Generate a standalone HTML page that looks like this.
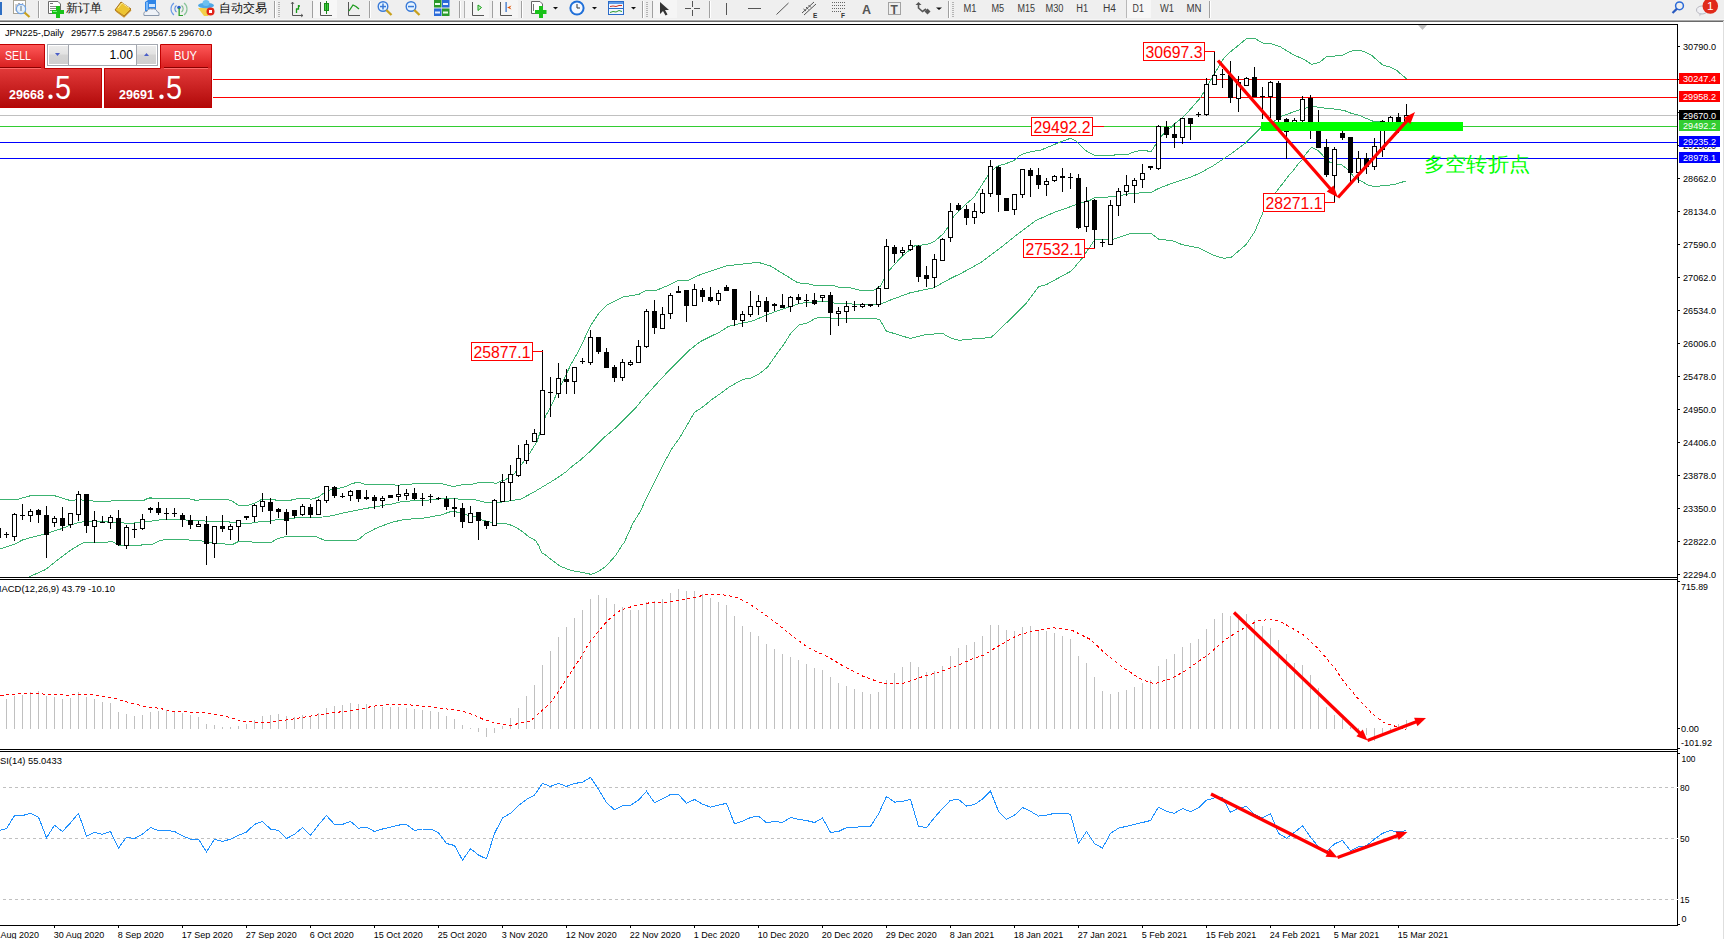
<!DOCTYPE html><html><head><meta charset="utf-8"><style>
html,body{margin:0;padding:0;background:#fff;width:1724px;height:939px;overflow:hidden}
svg{display:block}
text{font-family:"Liberation Sans", sans-serif}
</style></head><body>
<svg width="1724" height="939" viewBox="0 0 1724 939">
<defs>
<clipPath id="cm"><rect x="0" y="25" width="1677" height="552"/></clipPath>
<clipPath id="cd"><rect x="0" y="580" width="1677" height="169"/></clipPath>
<clipPath id="cr"><rect x="0" y="752" width="1677" height="173"/></clipPath>
<linearGradient id="gRedTab" x1="0" y1="0" x2="0" y2="1"><stop offset="0" stop-color="#ff5a5a"/><stop offset="1" stop-color="#d81e1e"/></linearGradient>
<linearGradient id="gRedPanel" x1="0" y1="0" x2="0" y2="1"><stop offset="0" stop-color="#e23a3a"/><stop offset="1" stop-color="#b00808"/></linearGradient>
<linearGradient id="gBtn" x1="0" y1="0" x2="0" y2="1"><stop offset="0" stop-color="#ececec"/><stop offset="0.45" stop-color="#e2e2e2"/><stop offset="0.5" stop-color="#d4d4d4"/><stop offset="1" stop-color="#cfcfcf"/></linearGradient>
</defs>
<rect x="0" y="0" width="1724" height="19" fill="#efefef"/>
<rect x="0" y="19" width="1724" height="1" fill="#f6f6f6"/>
<rect x="0" y="20" width="1724" height="1" fill="#a9a9a9"/>
<rect x="0" y="21" width="1724" height="1" fill="#6a6a6a"/>
<rect x="1723" y="21" width="1" height="918" fill="#dedede"/>
<rect x="0" y="2" width="2" height="13" fill="#2f6fc4"/><rect x="13.5" y="0.5" width="12" height="13" fill="#fff" stroke="#a8a496"/><path d="M16,4 V11 H24 M17,6 L19,3 L21,6 L23,3" fill="none" stroke="#888" stroke-width="0.8"/><circle cx="21" cy="9" r="4.6" fill="#e4f2fc" fill-opacity="0.85" stroke="#6ea2e6" stroke-width="1.2"/><rect x="20" y="6" width="2" height="5" fill="#a8b4c0"/><line x1="24.5" y1="12.5" x2="29.5" y2="17" stroke="#c8a01c" stroke-width="2.2"/><rect x="38" y="1" width="1" height="17" fill="#a0a0a0"/><rect x="39" y="1" width="1" height="17" fill="#ffffff"/><path d="M48.5,1.5 H58 L60.5,4 V13.5 H48.5 Z" fill="#fff" stroke="#6a6a6a"/><rect x="50" y="3" width="3" height="1" fill="#777"/><rect x="50" y="6" width="7" height="1" fill="#888"/><rect x="50" y="8" width="6" height="1" fill="#888"/><rect x="50" y="10" width="4" height="1" fill="#888"/><rect x="52" y="10" width="12" height="4" fill="#19c219"/><rect x="56" y="6" width="4" height="12" fill="#19c219"/><rect x="53" y="11" width="4" height="1" fill="#7ef07e"/><text x="66" y="12" font-size="12" fill="#111">新订单</text><path d="M115,10 L121,2 L131,9 L124,16 Z" fill="#edc431" stroke="#a6701a" stroke-width="1"/><path d="M116,11 L124,17 L131,10" fill="none" stroke="#c8902a" stroke-width="1.2"/><path d="M118,8 L122,3 L129,8" fill="none" stroke="#fbe890" stroke-width="1"/><path d="M145,2 L148,0 L156,0 L156,11 L145,11 Z" fill="#2f86e8"/><rect x="149" y="4" width="6" height="3" fill="#cfe6ff"/><rect x="146" y="2" width="2" height="8" fill="#7ab8f8"/><path d="M144,15.5 Q143,11 147,11.5 Q148,8 152,9 Q156,8 157,11.5 Q160,12 159,15.5 Z" fill="#eef2f8" stroke="#8a98ac" stroke-width="1"/><path d="M174,3 A7.5,7.5 0 0 0 174,15" fill="none" stroke="#6a9ae8" stroke-width="1.1"/><path d="M176.5,5.5 A4,4 0 0 0 176.5,12" fill="none" stroke="#5a8ae0" stroke-width="1.1"/><path d="M184,3 A7.5,7.5 0 0 1 184,15" fill="none" stroke="#8ac49a" stroke-width="1.2"/><path d="M181.5,5.5 A4,4 0 0 1 181.5,12" fill="none" stroke="#7ab88a" stroke-width="1.1"/><circle cx="179" cy="7.5" r="1.8" fill="#2a5fc8"/><rect x="178.5" y="8" width="1.3" height="8" fill="#2aa02a"/><rect x="179" y="15" width="4" height="1" fill="#2aa02a"/><path d="M198,8 L214,8 L208,16 L204,16 Z" fill="#f2d04a"/><ellipse cx="206" cy="5.5" rx="8" ry="2.8" fill="#4ea8e6"/><ellipse cx="206" cy="3" rx="3.5" ry="3" fill="#6cc0f0"/><circle cx="210.5" cy="11.5" r="4" fill="#e0241a"/><rect x="209" y="10" width="3" height="3" fill="#fff"/><text x="219" y="12" font-size="12" fill="#111">自动交易</text><rect x="274" y="1" width="1" height="17" fill="#a0a0a0"/><rect x="275" y="1" width="1" height="17" fill="#ffffff"/><rect x="278" y="2" width="2" height="1" fill="#b4b4b4"/><rect x="278" y="4" width="2" height="1" fill="#b4b4b4"/><rect x="278" y="6" width="2" height="1" fill="#b4b4b4"/><rect x="278" y="8" width="2" height="1" fill="#b4b4b4"/><rect x="278" y="10" width="2" height="1" fill="#b4b4b4"/><rect x="278" y="12" width="2" height="1" fill="#b4b4b4"/><rect x="278" y="14" width="2" height="1" fill="#b4b4b4"/><rect x="278" y="16" width="2" height="1" fill="#b4b4b4"/><path d="M292.5,2 V15.5 H303" fill="none" stroke="#555"/><path d="M291,4 L292.5,2 L294,4 M301,14 L303,15.5 L301,17" fill="none" stroke="#555" stroke-width="0.8"/><path d="M296.5,13 V8.5 M296,9 H298.5 V5 M298.5,6 H300" fill="none" stroke="#1a9a1a" stroke-width="1.3"/><rect x="312" y="1" width="1" height="17" fill="#a0a0a0"/><rect x="313" y="1" width="1" height="17" fill="#ffffff"/><rect x="313" y="0" width="24" height="18" fill="#f7f7f7"/><path d="M320.5,2 V15.5 H332" fill="none" stroke="#555"/><rect x="324.5" y="3.5" width="4" height="7" fill="#3fd43f" stroke="#1a8a1a"/><rect x="326" y="1" width="1" height="13" fill="#1a8a1a"/><path d="M348.5,2 V15.5 H360" fill="none" stroke="#555"/><path d="M349,11 L353,5 L356,6.5 L359,9" fill="none" stroke="#1a9a1a" stroke-width="1.3"/><rect x="369" y="1" width="1" height="17" fill="#a0a0a0"/><rect x="370" y="1" width="1" height="17" fill="#ffffff"/><circle cx="383" cy="6.5" r="4.8" fill="#e6f4ff" stroke="#3a7ad8" stroke-width="1.4"/><rect x="380" y="5.8" width="6" height="1.5" fill="#3a7ad8"/><rect x="382.25" y="3.5" width="1.5" height="6" fill="#3a7ad8"/><line x1="386.3" y1="10" x2="391.5" y2="15" stroke="#c8a01c" stroke-width="2.4"/><circle cx="411" cy="6.5" r="4.8" fill="#e6f4ff" stroke="#3a7ad8" stroke-width="1.4"/><rect x="408" y="5.8" width="6" height="1.5" fill="#3a7ad8"/><line x1="414.3" y1="10" x2="419.5" y2="15" stroke="#c8a01c" stroke-width="2.4"/><rect x="434" y="0" width="7.5" height="7.5" fill="#2a9a2a"/><rect x="442" y="0" width="7.5" height="7.5" fill="#2a6ad8"/><rect x="434" y="8.5" width="7.5" height="7.5" fill="#2a6ad8"/><rect x="442" y="8.5" width="7.5" height="7.5" fill="#2a9a2a"/><rect x="435" y="3" width="5" height="2" fill="#e8ffe8"/><rect x="443" y="3" width="5" height="2" fill="#e8f0ff"/><rect x="435" y="11.5" width="5" height="2" fill="#e8f0ff"/><rect x="443" y="11.5" width="5" height="2" fill="#e8ffe8"/><rect x="459" y="1" width="1" height="17" fill="#a0a0a0"/><rect x="460" y="1" width="1" height="17" fill="#ffffff"/><rect x="464" y="0" width="25" height="18" fill="#f5f5f5"/><rect x="464" y="1" width="1" height="17" fill="#b0b0b0"/><path d="M472.5,2 V15.5 H484" fill="none" stroke="#555"/><path d="M478,5 L481.5,7.5 L478,10.5 Z" fill="#bff0bf" stroke="#1aa01a" stroke-width="1"/><rect x="492" y="1" width="1" height="17" fill="#a0a0a0"/><rect x="493" y="1" width="1" height="17" fill="#ffffff"/><rect x="493" y="0" width="25" height="18" fill="#f5f5f5"/><path d="M500.5,2 V15.5 H512" fill="none" stroke="#555"/><rect x="505.5" y="2" width="1.2" height="10" fill="#2a6ac8"/><path d="M507,7.5 L511.5,5.5 L510,7.5 L511.5,9.5 Z" fill="#e05a10"/><rect x="521" y="1" width="1" height="17" fill="#a0a0a0"/><rect x="522" y="1" width="1" height="17" fill="#ffffff"/><path d="M531.5,1.5 H540 L542.5,4 V13.5 H531.5 Z" fill="#fff" stroke="#666"/><rect x="533" y="4" width="1" height="7" fill="#777"/><rect x="535" y="10" width="11.5" height="4" fill="#19c219"/><rect x="539" y="6" width="4" height="12" fill="#19c219"/><path d="M553,7 L558,7 L555.5,9.5 Z" fill="#111"/><circle cx="577" cy="8" r="7.6" fill="#1f6fd8"/><circle cx="577" cy="8" r="5.6" fill="#f4f8ff"/><path d="M577,4 V8 H580" fill="none" stroke="#333" stroke-width="1"/><path d="M592,7 L597,7 L594.5,9.5 Z" fill="#111"/><rect x="608.5" y="1.5" width="15" height="13" fill="#f0f6ff" stroke="#2a6ac8"/><rect x="609" y="2" width="14" height="2" fill="#5a9ae8"/><rect x="609" y="8" width="14" height="1" fill="#2a6ac8"/><path d="M610,6.5 L613,6 L616,6.5 L619,5.5 L622,5.5" fill="none" stroke="#c83020" stroke-width="1"/><path d="M610,12.5 L613,11.5 L616,12 L619,10.5 L622,11.5" fill="none" stroke="#2a9a2a" stroke-width="1"/><path d="M631,7 L636,7 L633.5,9.5 Z" fill="#111"/><rect x="642" y="1" width="1" height="17" fill="#a0a0a0"/><rect x="643" y="1" width="1" height="17" fill="#ffffff"/><rect x="646" y="2" width="2" height="1" fill="#b4b4b4"/><rect x="646" y="4" width="2" height="1" fill="#b4b4b4"/><rect x="646" y="6" width="2" height="1" fill="#b4b4b4"/><rect x="646" y="8" width="2" height="1" fill="#b4b4b4"/><rect x="646" y="10" width="2" height="1" fill="#b4b4b4"/><rect x="646" y="12" width="2" height="1" fill="#b4b4b4"/><rect x="646" y="14" width="2" height="1" fill="#b4b4b4"/><rect x="646" y="16" width="2" height="1" fill="#b4b4b4"/><rect x="652" y="1" width="1" height="17" fill="#a0a0a0"/><rect x="653" y="0" width="24" height="18" fill="#f5f5f5"/><path d="M660,2 L660,14 L663,11 L665.5,15.5 L667.5,14.5 L665,10 L669,10 Z" fill="#333"/><rect x="692" y="1" width="1" height="15" fill="#555"/><rect x="685" y="8" width="15" height="1" fill="#555"/><rect x="692" y="7" width="1" height="3" fill="#efefef"/><rect x="691" y="8" width="3" height="1" fill="#efefef"/><rect x="709" y="1" width="1" height="17" fill="#a0a0a0"/><rect x="710" y="1" width="1" height="17" fill="#ffffff"/><rect x="726" y="3" width="1" height="12" fill="#555"/><rect x="748" y="8" width="13" height="1" fill="#555"/><line x1="776.5" y1="14.5" x2="788.5" y2="3" stroke="#555" stroke-width="1"/><path d="M802,13 L814,2 M804,15 L816,4 M803.5,9 L806,11 M806,7 L808.5,9.5 M808.5,5 L811,7.5" fill="none" stroke="#555" stroke-width="1"/><text x="813" y="17.5" font-size="6.5" font-weight="bold" fill="#333">E</text><path d="M832,2.5 H845 M832,5.5 H845 M832,8.5 H845 M832,11.5 H841" fill="none" stroke="#666" stroke-dasharray="1,1"/><text x="841" y="17.5" font-size="6.5" font-weight="bold" fill="#333">F</text><text x="862" y="13.5" font-size="12.5" font-weight="bold" fill="#555">A</text><rect x="888.5" y="2.5" width="12" height="12" fill="none" stroke="#555" stroke-dasharray="1,1"/><text x="890.5" y="13.5" font-size="12" font-weight="bold" fill="#555">T</text><path d="M915.5,5 L918.5,2 L921.5,5 Z" fill="#555"/><path d="M918.5,5 V8 L922.5,11.5 L926,9" fill="none" stroke="#555" stroke-width="1.6"/><path d="M924.5,11.5 L927.5,8.5 L930.5,11.5 L927.5,14.5 Z" fill="#555"/><path d="M936,7.5 L942,7.5 L939,10 Z" fill="#111"/><rect x="948" y="1" width="1" height="17" fill="#a0a0a0"/><rect x="949" y="1" width="1" height="17" fill="#ffffff"/><rect x="952" y="2" width="2" height="1" fill="#b4b4b4"/><rect x="952" y="4" width="2" height="1" fill="#b4b4b4"/><rect x="952" y="6" width="2" height="1" fill="#b4b4b4"/><rect x="952" y="8" width="2" height="1" fill="#b4b4b4"/><rect x="952" y="10" width="2" height="1" fill="#b4b4b4"/><rect x="952" y="12" width="2" height="1" fill="#b4b4b4"/><rect x="952" y="14" width="2" height="1" fill="#b4b4b4"/><rect x="952" y="16" width="2" height="1" fill="#b4b4b4"/><rect x="1126" y="0" width="25" height="18" fill="#f7f7f7"/><rect x="1126" y="0" width="1" height="18" fill="#b8b8b8"/><text x="963.5" y="12.3" font-size="10" fill="#3a3a3a" textLength="13" lengthAdjust="spacingAndGlyphs">M1</text><text x="991.5" y="12.3" font-size="10" fill="#3a3a3a" textLength="12.7" lengthAdjust="spacingAndGlyphs">M5</text><text x="1017.5" y="12.3" font-size="10" fill="#3a3a3a" textLength="17.5" lengthAdjust="spacingAndGlyphs">M15</text><text x="1045.5" y="12.3" font-size="10" fill="#3a3a3a" textLength="18" lengthAdjust="spacingAndGlyphs">M30</text><text x="1076.3" y="12.3" font-size="10" fill="#3a3a3a" textLength="11.8" lengthAdjust="spacingAndGlyphs">H1</text><text x="1103" y="12.3" font-size="10" fill="#3a3a3a" textLength="13" lengthAdjust="spacingAndGlyphs">H4</text><text x="1132.5" y="12.3" font-size="10" fill="#3a3a3a" textLength="11.3" lengthAdjust="spacingAndGlyphs">D1</text><text x="1160" y="12.3" font-size="10" fill="#3a3a3a" textLength="14" lengthAdjust="spacingAndGlyphs">W1</text><text x="1186.5" y="12.3" font-size="10" fill="#3a3a3a" textLength="15" lengthAdjust="spacingAndGlyphs">MN</text><rect x="1209" y="1" width="1" height="17" fill="#a0a0a0"/><rect x="1210" y="1" width="1" height="17" fill="#ffffff"/><circle cx="1679.5" cy="5.8" r="3.9" fill="none" stroke="#2a6ad8" stroke-width="1.5"/><line x1="1677" y1="8.6" x2="1672.5" y2="13" stroke="#2a5ac0" stroke-width="2.2"/><ellipse cx="1702" cy="10" rx="5.5" ry="4" fill="#f0f0f4" stroke="#b8b8c0"/><path d="M1699,13 L1699.5,16.5 L1702,13.5 Z" fill="#c8c8d0"/><circle cx="1710.3" cy="6" r="7.8" fill="#e02a1a"/><text x="1707" y="10.3" font-size="10" fill="#fff" textLength="6.5" lengthAdjust="spacingAndGlyphs">1</text>
<rect x="0" y="22" width="1723" height="917" fill="#ffffff"/>
<rect x="0" y="24" width="1678" height="1" fill="#000"/>
<rect x="1677" y="24" width="1" height="902" fill="#000"/>
<rect x="0" y="577" width="1678" height="1" fill="#000"/>
<rect x="0" y="579" width="1678" height="1" fill="#000"/>
<rect x="0" y="749" width="1678" height="1" fill="#000"/>
<rect x="0" y="751" width="1678" height="1" fill="#000"/>
<rect x="0" y="925" width="1678" height="1" fill="#000"/>
<g clip-path="url(#cm)"><rect x="0" y="79" width="1677" height="1" fill="#ff0000"/><rect x="0" y="97" width="1677" height="1" fill="#ff0000"/><rect x="0" y="115" width="1677" height="1" fill="#c0c0c0"/><rect x="0" y="126" width="1677" height="1" fill="#32cd32"/><rect x="0" y="142" width="1677" height="1" fill="#0000ff"/><rect x="0" y="158" width="1677" height="1" fill="#0000ff"/><path d="M1418,25 L1427,25 L1422.5,30 Z" fill="#c0c0c0"/><polyline points="0.5,499.7 19.4,499.0 23.5,497.6 29.5,496.0 41.1,495.4 55.5,496.0 70.1,500.5 78.8,499.7 102.0,501.9 116.5,500.5 144.4,500.1 148.7,498.0 187.1,498.2 195.7,500.3 202.4,499.7 227.3,499.7 231.2,500.6 238.8,505.4 247.5,505.4 254.2,503.5 260.5,500.0 274.9,499.2 275.8,500.5 289.3,500.5 298.9,498.3 307.5,498.6 311.3,499.2 318.0,497.3 323.8,493.0 329.5,490.1 337.2,488.7 344.9,486.8 352.5,483.4 358.3,482.3 366.0,484.6 387.1,484.4 399.1,485.3 403.0,484.4 426.0,483.4 440.4,483.4 448.0,485.3 453.8,486.5 461.5,484.9 472.0,484.2 478.7,482.5 491.2,482.5 496.0,483.4 500.8,481.0 505.0,480.0 514.2,473.8 522.0,464.1 529.5,453.5 536.9,441.8 545.5,416.2 550.8,406.6 557.2,392.8 563.6,380.0 570.5,365.2 579.0,350.3 587.5,332.2 591.8,323.7 598.2,314.1 607.8,304.5 622.7,297.0 638.7,294.4 646.1,290.4 655.7,290.4 661.0,288.5 670.5,284.3 678.0,280.4 688.2,280.4 700.1,274.7 713.8,270.0 726.5,265.8 758.2,262.3 770.5,266.0 797.8,282.8 808.8,283.9 814.8,285.4 833.5,285.6 838.6,287.3 848.9,287.4 859.9,290.2 873.6,290.2 880.4,286.4 884.6,277.9 889.9,269.6 901.6,256.7 914.5,246.0 927.3,244.4 934.4,241.5 943.7,233.3 948.4,226.3 954.3,215.8 964.8,205.2 974.2,197.0 982.5,184.0 988.4,174.6 996.6,166.4 1004.8,164.0 1014.1,160.5 1020.0,155.3 1025.9,152.9 1034.0,151.2 1041.4,149.9 1058.2,142.9 1070.4,138.3 1076.2,141.2 1084.9,149.9 1090.5,153.5 1095.0,155.5 1114.2,155.5 1114.8,154.2 1128.2,154.2 1132.7,152.5 1136.5,151.4 1141.0,150.3 1146.8,150.3 1148.0,151.6 1151.2,151.6 1156.4,143.2 1161.5,135.9 1169.8,128.5 1175.5,123.1 1183.2,116.9 1189.7,110.0 1200.8,97.3 1210.1,81.1 1217.8,68.3 1223.8,58.1 1230.5,51.7 1237.8,45.9 1246.9,38.3 1254.4,38.3 1263.5,43.3 1271.0,43.6 1280.0,46.6 1293.6,54.9 1304.2,59.4 1311.7,64.4 1319.3,62.5 1326.8,56.4 1341.9,55.7 1350.9,51.1 1358.5,50.4 1364.5,51.6 1372.0,55.7 1382.6,65.0 1390.1,67.0 1396.2,70.0 1406.7,79.0" fill="none" shape-rendering="crispEdges" stroke="#3cb371" stroke-width="1"/><polyline points="0.5,549.0 14.5,544.2 22.5,540.0 30.5,537.5 38.5,535.6 46.5,533.5 54.5,530.8 62.5,528.4 70.5,525.0 78.5,522.7 86.5,521.2 94.5,521.2 110.5,522.2 130.5,523.4 145.8,521.7 154.5,520.7 163.1,519.3 181.3,519.3 188.0,520.3 203.4,520.7 207.2,521.4 226.4,521.2 232.1,522.7 250.3,523.6 255.1,522.2 270.1,521.3 276.8,519.4 284.5,519.9 289.3,518.9 298.9,517.5 308.4,517.5 322.8,517.0 330.5,516.0 346.8,512.2 356.4,510.3 366.0,508.4 375.5,506.9 385.1,505.0 390.5,504.3 403.9,501.2 421.2,500.7 432.7,499.7 440.4,498.8 451.9,498.3 459.5,499.2 474.9,499.7 486.4,502.6 496.0,502.6 505.5,501.6 520.5,499.2 533.2,492.5 554.0,480.0 565.7,472.1 571.0,467.3 580.5,459.9 592.2,449.5 604.1,437.5 614.3,429.0 620.5,423.1 634.4,409.3 642.1,400.0 660.0,380.0 670.5,368.9 689.5,350.0 700.5,341.5 719.7,332.0 728.2,326.6 735.6,324.5 751.6,321.3 764.4,316.0 775.0,311.7 785.7,308.0 800.5,303.2 818.2,301.7 828.4,301.7 836.1,303.6 850.6,303.9 864.2,304.7 881.2,303.9 890.5,300.0 910.4,292.7 933.9,287.8 948.4,279.6 962.9,272.4 981.0,262.4 999.1,248.9 1017.2,234.4 1035.3,220.8 1053.4,212.7 1071.5,206.3 1090.5,200.0 1094.8,197.4 1114.7,196.8 1131.1,193.3 1150.5,192.6 1159.4,188.1 1172.9,182.9 1189.3,177.7 1199.7,173.2 1213.1,165.8 1231.0,153.9 1245.9,142.7 1261.5,127.1 1273.3,121.8 1282.3,116.0 1301.5,109.0 1312.6,106.3 1328.6,108.7 1335.5,109.1 1344.6,110.6 1350.7,113.1 1358.8,115.2 1365.8,118.2 1372.9,121.2 1381.5,122.0 1406.5,124.0" fill="none" shape-rendering="crispEdges" stroke="#3cb371" stroke-width="1"/><polyline points="26.5,578.0 45.5,569.6 58.0,559.6 72.4,549.0 82.0,543.3 85.8,542.3 106.0,542.3 111.7,541.4 119.0,545.2 138.2,545.2 152.1,544.4 159.3,540.9 165.0,539.6 187.1,539.9 201.5,540.9 207.2,542.3 227.3,544.2 232.1,544.7 238.8,541.4 260.5,542.4 271.0,542.4 277.8,538.6 283.5,537.1 291.2,536.2 315.1,536.2 325.7,540.8 354.5,540.8 359.3,539.0 365.0,534.2 375.5,528.5 390.5,522.7 403.0,519.7 425.0,517.9 440.4,515.1 451.9,511.2 457.6,512.2 467.2,515.1 474.9,516.5 481.6,519.9 491.2,522.3 500.5,523.5 505.3,523.5 508.8,524.4 512.3,525.6 517.4,528.2 520.9,530.5 524.8,533.5 528.3,536.5 533.7,539.3 536.3,541.5 538.8,545.9 542.0,553.0 545.2,554.6 551.0,559.4 560.5,566.4 563.3,567.4 565.6,568.4 567.9,569.5 571.2,570.4 576.3,571.5 582.3,572.4 587.4,573.4 590.9,574.4 593.4,573.4 596.2,572.5 598.5,571.5 601.3,569.5 605.5,566.5 610.8,560.9 615.7,555.3 618.0,551.8 619.9,548.8 622.0,545.3 624.1,542.8 632.8,523.5 640.5,511.1 647.5,495.7 654.5,481.8 661.4,467.9 671.4,449.4 679.1,438.6 686.9,425.5 694.5,412.3 700.7,408.5 708.5,402.3 711.1,400.0 718.6,394.8 730.3,386.3 743.1,379.3 750.6,378.3 759.1,374.0 767.6,367.1 775.0,356.4 783.6,344.7 791.0,333.0 799.5,324.5 806.3,323.5 815.6,318.3 819.9,317.2 826.7,317.2 831.8,318.6 849.7,318.8 866.8,318.3 879.5,319.2 886.3,331.1 910.4,338.5 926.7,334.3 943.0,333.6 950.2,337.9 959.3,340.3 971.9,339.0 991.0,337.6 1008.1,321.3 1026.2,303.2 1038.9,286.5 1046.2,284.7 1071.5,270.9 1082.4,257.9 1094.8,239.6 1112.3,239.6 1131.1,233.4 1151.0,233.4 1159.4,239.6 1171.4,240.3 1181.8,244.5 1198.2,247.8 1213.1,255.2 1223.6,258.2 1231.0,257.5 1245.9,244.8 1254.9,231.4 1263.8,210.5 1275.7,192.6 1290.5,173.3 1292.9,170.9 1296.2,166.6 1299.1,162.8 1302.5,159.4 1304.9,155.1 1309.2,149.9 1311.6,147.2 1314.5,148.9 1317.8,150.3 1321.2,153.7 1324.5,157.5 1329.8,162.3 1332.2,162.6 1337.9,164.5 1341.3,164.7 1345.5,167.6 1348.8,170.5 1353.7,176.8 1360.8,180.9 1367.9,184.9 1374.9,187.0 1381.0,185.9 1388.1,185.4 1396.2,183.9 1406.3,180.9" fill="none" shape-rendering="crispEdges" stroke="#3cb371" stroke-width="1"/><g fill="#000" shape-rendering="crispEdges"><rect x="-2" y="527" width="1" height="14"/><rect x="-4" y="528" width="5" height="10"/><rect x="6" y="532" width="1" height="6"/><rect x="4" y="534" width="5" height="1"/><rect x="14" y="513" width="1" height="28"/><rect x="12.5" y="514.5" width="4" height="22" fill="#fff" stroke="#000" stroke-width="1"/><rect x="22" y="504" width="1" height="16"/><rect x="20" y="515" width="5" height="1"/><rect x="30" y="509" width="1" height="13"/><rect x="28.5" y="511.5" width="4" height="4" fill="#fff" stroke="#000" stroke-width="1"/><rect x="38" y="509" width="1" height="14"/><rect x="36" y="510" width="5" height="5"/><rect x="46" y="506" width="1" height="52"/><rect x="44" y="515" width="5" height="20"/><rect x="54" y="516" width="1" height="11"/><rect x="52.5" y="518.5" width="4" height="4" fill="#fff" stroke="#000" stroke-width="1"/><rect x="62" y="507" width="1" height="24"/><rect x="60" y="518" width="5" height="8"/><rect x="70" y="513" width="1" height="15"/><rect x="68.5" y="513.5" width="4" height="11" fill="#fff" stroke="#000" stroke-width="1"/><rect x="78" y="491" width="1" height="30"/><rect x="76.5" y="494.5" width="4" height="20" fill="#fff" stroke="#000" stroke-width="1"/><rect x="86" y="494" width="1" height="39"/><rect x="84" y="494" width="5" height="32"/><rect x="94" y="511" width="1" height="32"/><rect x="92.5" y="520.5" width="4" height="6" fill="#fff" stroke="#000" stroke-width="1"/><rect x="102" y="516" width="1" height="7"/><rect x="100" y="522" width="5" height="1"/><rect x="110" y="515" width="1" height="14"/><rect x="108.5" y="517.5" width="4" height="5" fill="#fff" stroke="#000" stroke-width="1"/><rect x="118" y="510" width="1" height="36"/><rect x="116" y="518" width="5" height="27"/><rect x="126" y="525" width="1" height="24"/><rect x="124.5" y="527.5" width="4" height="18" fill="#fff" stroke="#000" stroke-width="1"/><rect x="134" y="523" width="1" height="15"/><rect x="132" y="529" width="5" height="1"/><rect x="142" y="514" width="1" height="16"/><rect x="140.5" y="519.5" width="4" height="9" fill="#fff" stroke="#000" stroke-width="1"/><rect x="150" y="507" width="1" height="6"/><rect x="148" y="508" width="5" height="2"/><rect x="158" y="502" width="1" height="13"/><rect x="156" y="508" width="5" height="5"/><rect x="166" y="508" width="1" height="12"/><rect x="164" y="513" width="5" height="1"/><rect x="174" y="508" width="1" height="9"/><rect x="172" y="513" width="5" height="1"/><rect x="182" y="513" width="1" height="14"/><rect x="180" y="515" width="5" height="5"/><rect x="190" y="515" width="1" height="14"/><rect x="188" y="520" width="5" height="5"/><rect x="198" y="521" width="1" height="6"/><rect x="196.5" y="524.5" width="4" height="2" fill="#fff" stroke="#000" stroke-width="1"/><rect x="206" y="516" width="1" height="49"/><rect x="204" y="524" width="5" height="20"/><rect x="214" y="526" width="1" height="32"/><rect x="212.5" y="526.5" width="4" height="17" fill="#fff" stroke="#000" stroke-width="1"/><rect x="222" y="515" width="1" height="17"/><rect x="220" y="526" width="5" height="3"/><rect x="230" y="524" width="1" height="16"/><rect x="228.5" y="526.5" width="4" height="3" fill="#fff" stroke="#000" stroke-width="1"/><rect x="238" y="520" width="1" height="21"/><rect x="236.5" y="520.5" width="4" height="6" fill="#fff" stroke="#000" stroke-width="1"/><rect x="246" y="516" width="1" height="4"/><rect x="244" y="516" width="5" height="2"/><rect x="254" y="504" width="1" height="18"/><rect x="252.5" y="505.5" width="4" height="11" fill="#fff" stroke="#000" stroke-width="1"/><rect x="262" y="493" width="1" height="19"/><rect x="260.5" y="501.5" width="4" height="5" fill="#fff" stroke="#000" stroke-width="1"/><rect x="270" y="498" width="1" height="26"/><rect x="268" y="502" width="5" height="9"/><rect x="278" y="508" width="1" height="10"/><rect x="276" y="509" width="5" height="3"/><rect x="286" y="509" width="1" height="26"/><rect x="284" y="512" width="5" height="9"/><rect x="294" y="510" width="1" height="8"/><rect x="292" y="510" width="5" height="6"/><rect x="302" y="504" width="1" height="12"/><rect x="300.5" y="506.5" width="4" height="8" fill="#fff" stroke="#000" stroke-width="1"/><rect x="310" y="504" width="1" height="14"/><rect x="308" y="507" width="5" height="8"/><rect x="318" y="499" width="1" height="16"/><rect x="316.5" y="500.5" width="4" height="14" fill="#fff" stroke="#000" stroke-width="1"/><rect x="326" y="486" width="1" height="17"/><rect x="324.5" y="486.5" width="4" height="14" fill="#fff" stroke="#000" stroke-width="1"/><rect x="334" y="486" width="1" height="12"/><rect x="332" y="487" width="5" height="9"/><rect x="342" y="493" width="1" height="5"/><rect x="340" y="496" width="5" height="1"/><rect x="350" y="490" width="1" height="11"/><rect x="348.5" y="491.5" width="4" height="4" fill="#fff" stroke="#000" stroke-width="1"/><rect x="358" y="490" width="1" height="12"/><rect x="356" y="490" width="5" height="9"/><rect x="366" y="490" width="1" height="10"/><rect x="364" y="497" width="5" height="2"/><rect x="374" y="495" width="1" height="14"/><rect x="372" y="497" width="5" height="4"/><rect x="382" y="496" width="1" height="12"/><rect x="380.5" y="498.5" width="4" height="2" fill="#fff" stroke="#000" stroke-width="1"/><rect x="390" y="495" width="1" height="3"/><rect x="388" y="495" width="5" height="3"/><rect x="398" y="485" width="1" height="16"/><rect x="396.5" y="494.5" width="4" height="2" fill="#fff" stroke="#000" stroke-width="1"/><rect x="406" y="489" width="1" height="11"/><rect x="404.5" y="493.5" width="4" height="2" fill="#fff" stroke="#000" stroke-width="1"/><rect x="414" y="488" width="1" height="12"/><rect x="412" y="493" width="5" height="6"/><rect x="422" y="493" width="1" height="13"/><rect x="420" y="498" width="5" height="1"/><rect x="430" y="494" width="1" height="9"/><rect x="428" y="496" width="5" height="1"/><rect x="438" y="497" width="1" height="3"/><rect x="436" y="498" width="5" height="1"/><rect x="446" y="496" width="1" height="14"/><rect x="444" y="499" width="5" height="8"/><rect x="454" y="498" width="1" height="19"/><rect x="452" y="507" width="5" height="2"/><rect x="462" y="503" width="1" height="25"/><rect x="460" y="508" width="5" height="14"/><rect x="470" y="506" width="1" height="17"/><rect x="468.5" y="513.5" width="4" height="9" fill="#fff" stroke="#000" stroke-width="1"/><rect x="478" y="512" width="1" height="28"/><rect x="476" y="512" width="5" height="9"/><rect x="486" y="521" width="1" height="8"/><rect x="484" y="521" width="5" height="5"/><rect x="494" y="499" width="1" height="27"/><rect x="492.5" y="500.5" width="4" height="25" fill="#fff" stroke="#000" stroke-width="1"/><rect x="502" y="474" width="1" height="28"/><rect x="500.5" y="482.5" width="4" height="19" fill="#fff" stroke="#000" stroke-width="1"/><rect x="510" y="465" width="1" height="36"/><rect x="508.5" y="474.5" width="4" height="8" fill="#fff" stroke="#000" stroke-width="1"/><rect x="518" y="445" width="1" height="32"/><rect x="516.5" y="458.5" width="4" height="17" fill="#fff" stroke="#000" stroke-width="1"/><rect x="526" y="440" width="1" height="24"/><rect x="524.5" y="444.5" width="4" height="16" fill="#fff" stroke="#000" stroke-width="1"/><rect x="534" y="429" width="1" height="13"/><rect x="532.5" y="433.5" width="4" height="8" fill="#fff" stroke="#000" stroke-width="1"/><rect x="542" y="350" width="1" height="85"/><rect x="540.5" y="390.5" width="4" height="44" fill="#fff" stroke="#000" stroke-width="1"/><rect x="550" y="377" width="1" height="40"/><rect x="548" y="392" width="5" height="1"/><rect x="558" y="363" width="1" height="35"/><rect x="556.5" y="378.5" width="4" height="15" fill="#fff" stroke="#000" stroke-width="1"/><rect x="566" y="369" width="1" height="25"/><rect x="564" y="379" width="5" height="3"/><rect x="574" y="367" width="1" height="27"/><rect x="572.5" y="367.5" width="4" height="14" fill="#fff" stroke="#000" stroke-width="1"/><rect x="582" y="358" width="1" height="6"/><rect x="580" y="361" width="5" height="1"/><rect x="590" y="330" width="1" height="35"/><rect x="588.5" y="337.5" width="4" height="25" fill="#fff" stroke="#000" stroke-width="1"/><rect x="598" y="337" width="1" height="17"/><rect x="596" y="337" width="5" height="15"/><rect x="606" y="348" width="1" height="20"/><rect x="604" y="352" width="5" height="16"/><rect x="614" y="365" width="1" height="17"/><rect x="612" y="367" width="5" height="11"/><rect x="622" y="359" width="1" height="22"/><rect x="620.5" y="362.5" width="4" height="15" fill="#fff" stroke="#000" stroke-width="1"/><rect x="630" y="360" width="1" height="6"/><rect x="628.5" y="362.5" width="4" height="2" fill="#fff" stroke="#000" stroke-width="1"/><rect x="638" y="340" width="1" height="23"/><rect x="636.5" y="346.5" width="4" height="16" fill="#fff" stroke="#000" stroke-width="1"/><rect x="646" y="309" width="1" height="39"/><rect x="644.5" y="311.5" width="4" height="35" fill="#fff" stroke="#000" stroke-width="1"/><rect x="654" y="300" width="1" height="34"/><rect x="652" y="311" width="5" height="17"/><rect x="662" y="307" width="1" height="22"/><rect x="660.5" y="314.5" width="4" height="14" fill="#fff" stroke="#000" stroke-width="1"/><rect x="670" y="293" width="1" height="26"/><rect x="668.5" y="295.5" width="4" height="18" fill="#fff" stroke="#000" stroke-width="1"/><rect x="678" y="286" width="1" height="7"/><rect x="676" y="291" width="5" height="2"/><rect x="686" y="290" width="1" height="32"/><rect x="684" y="290" width="5" height="16"/><rect x="694" y="284" width="1" height="22"/><rect x="692.5" y="289.5" width="4" height="16" fill="#fff" stroke="#000" stroke-width="1"/><rect x="702" y="288" width="1" height="14"/><rect x="700" y="290" width="5" height="7"/><rect x="710" y="287" width="1" height="15"/><rect x="708" y="297" width="5" height="4"/><rect x="718" y="290" width="1" height="15"/><rect x="716.5" y="293.5" width="4" height="7" fill="#fff" stroke="#000" stroke-width="1"/><rect x="726" y="285" width="1" height="6"/><rect x="724" y="287" width="5" height="4"/><rect x="734" y="289" width="1" height="37"/><rect x="732" y="289" width="5" height="31"/><rect x="742" y="311" width="1" height="16"/><rect x="740.5" y="314.5" width="4" height="6" fill="#fff" stroke="#000" stroke-width="1"/><rect x="750" y="291" width="1" height="26"/><rect x="748.5" y="306.5" width="4" height="8" fill="#fff" stroke="#000" stroke-width="1"/><rect x="758" y="295" width="1" height="20"/><rect x="756.5" y="301.5" width="4" height="5" fill="#fff" stroke="#000" stroke-width="1"/><rect x="766" y="297" width="1" height="25"/><rect x="764" y="301" width="5" height="11"/><rect x="774" y="303" width="1" height="8"/><rect x="772" y="304" width="5" height="2"/><rect x="782" y="294" width="1" height="14"/><rect x="780" y="305" width="5" height="3"/><rect x="790" y="296" width="1" height="16"/><rect x="788.5" y="297.5" width="4" height="9" fill="#fff" stroke="#000" stroke-width="1"/><rect x="798" y="294" width="1" height="10"/><rect x="796" y="297" width="5" height="3"/><rect x="806" y="294" width="1" height="13"/><rect x="804" y="300" width="5" height="1"/><rect x="814" y="293" width="1" height="12"/><rect x="812" y="300" width="5" height="4"/><rect x="822" y="295" width="1" height="7"/><rect x="820.5" y="295.5" width="4" height="2" fill="#fff" stroke="#000" stroke-width="1"/><rect x="830" y="292" width="1" height="43"/><rect x="828" y="295" width="5" height="18"/><rect x="838" y="307" width="1" height="19"/><rect x="836.5" y="311.5" width="4" height="2" fill="#fff" stroke="#000" stroke-width="1"/><rect x="846" y="301" width="1" height="22"/><rect x="844.5" y="306.5" width="4" height="5" fill="#fff" stroke="#000" stroke-width="1"/><rect x="854" y="301" width="1" height="10"/><rect x="852" y="306" width="5" height="1"/><rect x="862" y="303" width="1" height="5"/><rect x="860.5" y="304.5" width="4" height="2" fill="#fff" stroke="#000" stroke-width="1"/><rect x="870" y="304" width="1" height="3"/><rect x="868" y="304" width="5" height="2"/><rect x="878" y="286" width="1" height="21"/><rect x="876.5" y="288.5" width="4" height="16" fill="#fff" stroke="#000" stroke-width="1"/><rect x="886" y="239" width="1" height="50"/><rect x="884.5" y="246.5" width="4" height="42" fill="#fff" stroke="#000" stroke-width="1"/><rect x="894" y="245" width="1" height="18"/><rect x="892" y="247" width="5" height="7"/><rect x="902" y="247" width="1" height="9"/><rect x="900.5" y="250.5" width="4" height="2" fill="#fff" stroke="#000" stroke-width="1"/><rect x="910" y="240" width="1" height="11"/><rect x="908.5" y="245.5" width="4" height="4" fill="#fff" stroke="#000" stroke-width="1"/><rect x="918" y="245" width="1" height="37"/><rect x="916" y="246" width="5" height="31"/><rect x="926" y="266" width="1" height="21"/><rect x="924" y="275" width="5" height="4"/><rect x="934" y="254" width="1" height="34"/><rect x="932.5" y="259.5" width="4" height="18" fill="#fff" stroke="#000" stroke-width="1"/><rect x="942" y="238" width="1" height="23"/><rect x="940.5" y="239.5" width="4" height="21" fill="#fff" stroke="#000" stroke-width="1"/><rect x="950" y="203" width="1" height="39"/><rect x="948.5" y="211.5" width="4" height="26" fill="#fff" stroke="#000" stroke-width="1"/><rect x="958" y="203" width="1" height="8"/><rect x="956" y="205" width="5" height="5"/><rect x="966" y="205" width="1" height="20"/><rect x="964" y="209" width="5" height="9"/><rect x="974" y="203" width="1" height="21"/><rect x="972.5" y="211.5" width="4" height="6" fill="#fff" stroke="#000" stroke-width="1"/><rect x="982" y="189" width="1" height="25"/><rect x="980.5" y="193.5" width="4" height="19" fill="#fff" stroke="#000" stroke-width="1"/><rect x="990" y="160" width="1" height="37"/><rect x="988.5" y="166.5" width="4" height="27" fill="#fff" stroke="#000" stroke-width="1"/><rect x="998" y="166" width="1" height="46"/><rect x="996" y="167" width="5" height="28"/><rect x="1006" y="198" width="1" height="13"/><rect x="1004" y="198" width="5" height="13"/><rect x="1014" y="194" width="1" height="21"/><rect x="1012.5" y="194.5" width="4" height="15" fill="#fff" stroke="#000" stroke-width="1"/><rect x="1022" y="169" width="1" height="29"/><rect x="1020.5" y="169.5" width="4" height="25" fill="#fff" stroke="#000" stroke-width="1"/><rect x="1030" y="168" width="1" height="29"/><rect x="1028" y="170" width="5" height="6"/><rect x="1038" y="168" width="1" height="21"/><rect x="1036" y="175" width="5" height="10"/><rect x="1046" y="178" width="1" height="18"/><rect x="1044.5" y="181.5" width="4" height="3" fill="#fff" stroke="#000" stroke-width="1"/><rect x="1054" y="175" width="1" height="7"/><rect x="1052.5" y="176.5" width="4" height="4" fill="#fff" stroke="#000" stroke-width="1"/><rect x="1062" y="168" width="1" height="24"/><rect x="1060" y="176" width="5" height="2"/><rect x="1070" y="173" width="1" height="16"/><rect x="1068" y="177" width="5" height="1"/><rect x="1078" y="174" width="1" height="55"/><rect x="1076" y="178" width="5" height="50"/><rect x="1086" y="187" width="1" height="45"/><rect x="1084.5" y="201.5" width="4" height="25" fill="#fff" stroke="#000" stroke-width="1"/><rect x="1094" y="199" width="1" height="49"/><rect x="1092" y="200" width="5" height="30"/><rect x="1102" y="239" width="1" height="8"/><rect x="1100" y="242" width="5" height="1"/><rect x="1110" y="200" width="1" height="45"/><rect x="1108.5" y="205.5" width="4" height="39" fill="#fff" stroke="#000" stroke-width="1"/><rect x="1118" y="188" width="1" height="28"/><rect x="1116.5" y="191.5" width="4" height="14" fill="#fff" stroke="#000" stroke-width="1"/><rect x="1126" y="175" width="1" height="21"/><rect x="1124.5" y="185.5" width="4" height="6" fill="#fff" stroke="#000" stroke-width="1"/><rect x="1134" y="178" width="1" height="25"/><rect x="1132.5" y="180.5" width="4" height="5" fill="#fff" stroke="#000" stroke-width="1"/><rect x="1142" y="164" width="1" height="24"/><rect x="1140.5" y="173.5" width="4" height="6" fill="#fff" stroke="#000" stroke-width="1"/><rect x="1150" y="166" width="1" height="4"/><rect x="1148" y="166" width="5" height="2"/><rect x="1158" y="125" width="1" height="45"/><rect x="1156.5" y="126.5" width="4" height="42" fill="#fff" stroke="#000" stroke-width="1"/><rect x="1166" y="121" width="1" height="17"/><rect x="1164" y="127" width="5" height="8"/><rect x="1174" y="123" width="1" height="25"/><rect x="1172" y="134" width="5" height="4"/><rect x="1182" y="118" width="1" height="26"/><rect x="1180.5" y="118.5" width="4" height="19" fill="#fff" stroke="#000" stroke-width="1"/><rect x="1190" y="118" width="1" height="22"/><rect x="1188" y="118" width="5" height="6"/><rect x="1198" y="112" width="1" height="5"/><rect x="1196" y="114" width="5" height="1"/><rect x="1206" y="78" width="1" height="38"/><rect x="1204.5" y="84.5" width="4" height="30" fill="#fff" stroke="#000" stroke-width="1"/><rect x="1214" y="51" width="1" height="34"/><rect x="1212.5" y="75.5" width="4" height="9" fill="#fff" stroke="#000" stroke-width="1"/><rect x="1222" y="69" width="1" height="19"/><rect x="1220" y="74" width="5" height="1"/><rect x="1230" y="61" width="1" height="42"/><rect x="1228" y="75" width="5" height="23"/><rect x="1238" y="76" width="1" height="36"/><rect x="1236.5" y="82.5" width="4" height="16" fill="#fff" stroke="#000" stroke-width="1"/><rect x="1246" y="77" width="1" height="9"/><rect x="1244.5" y="78.5" width="4" height="7" fill="#fff" stroke="#000" stroke-width="1"/><rect x="1254" y="67" width="1" height="30"/><rect x="1252" y="77" width="5" height="20"/><rect x="1262" y="87" width="1" height="32"/><rect x="1260" y="96" width="5" height="1"/><rect x="1270" y="81" width="1" height="37"/><rect x="1268.5" y="82.5" width="4" height="14" fill="#fff" stroke="#000" stroke-width="1"/><rect x="1278" y="81" width="1" height="41"/><rect x="1276" y="83" width="5" height="37"/><rect x="1286" y="118" width="1" height="41"/><rect x="1284" y="119" width="5" height="13"/><rect x="1294" y="118" width="1" height="6"/><rect x="1292.5" y="120.5" width="4" height="2" fill="#fff" stroke="#000" stroke-width="1"/><rect x="1302" y="96" width="1" height="26"/><rect x="1300.5" y="99.5" width="4" height="21" fill="#fff" stroke="#000" stroke-width="1"/><rect x="1310" y="95" width="1" height="44"/><rect x="1308" y="98" width="5" height="24"/><rect x="1318" y="110" width="1" height="38"/><rect x="1316" y="130" width="5" height="18"/><rect x="1326" y="139" width="1" height="38"/><rect x="1324" y="147" width="5" height="28"/><rect x="1334" y="147" width="1" height="55"/><rect x="1332.5" y="149.5" width="4" height="26" fill="#fff" stroke="#000" stroke-width="1"/><rect x="1342" y="131" width="1" height="9"/><rect x="1340" y="133" width="5" height="5"/><rect x="1350" y="137" width="1" height="45"/><rect x="1348" y="137" width="5" height="36"/><rect x="1358" y="151" width="1" height="32"/><rect x="1356.5" y="158.5" width="4" height="14" fill="#fff" stroke="#000" stroke-width="1"/><rect x="1366" y="153" width="1" height="21"/><rect x="1364" y="158" width="5" height="9"/><rect x="1374" y="138" width="1" height="32"/><rect x="1372.5" y="146.5" width="4" height="20" fill="#fff" stroke="#000" stroke-width="1"/><rect x="1382" y="120" width="1" height="37"/><rect x="1380.5" y="121.5" width="4" height="28" fill="#fff" stroke="#000" stroke-width="1"/><rect x="1390" y="116" width="1" height="7"/><rect x="1388.5" y="117.5" width="4" height="5" fill="#fff" stroke="#000" stroke-width="1"/><rect x="1398" y="113" width="1" height="20"/><rect x="1396" y="117" width="5" height="6"/><rect x="1406" y="104" width="1" height="19"/><rect x="1404.5" y="115.5" width="4" height="6" fill="#fff" stroke="#000" stroke-width="1"/></g><rect x="1261" y="122" width="202" height="9" fill="#00ff00"/><rect x="471.5" y="342.5" width="61" height="18" fill="#fff" stroke="#ff0000" stroke-width="1"/><text x="473.5" y="358" font-size="16" fill="#ff0000" textLength="57" lengthAdjust="spacingAndGlyphs">25877.1</text><rect x="533" y="351" width="10" height="1" fill="#ff0000"/><rect x="1143.5" y="42.5" width="61" height="18" fill="#fff" stroke="#ff0000" stroke-width="1"/><text x="1145.5" y="58" font-size="16" fill="#ff0000" textLength="57" lengthAdjust="spacingAndGlyphs">30697.3</text><rect x="1205" y="51" width="10" height="1" fill="#ff0000"/><rect x="1023.5" y="239.5" width="61" height="18" fill="#fff" stroke="#ff0000" stroke-width="1"/><text x="1025.5" y="255" font-size="16" fill="#ff0000" textLength="57" lengthAdjust="spacingAndGlyphs">27532.1</text><rect x="1085" y="248" width="10" height="1" fill="#ff0000"/><rect x="1263.5" y="193.5" width="61" height="18" fill="#fff" stroke="#ff0000" stroke-width="1"/><text x="1265.5" y="209" font-size="16" fill="#ff0000" textLength="57" lengthAdjust="spacingAndGlyphs">28271.1</text><rect x="1325" y="202" width="10" height="1" fill="#ff0000"/><rect x="1031.5" y="117.5" width="61" height="18" fill="#fff" stroke="#ff0000" stroke-width="1"/><text x="1033.5" y="133" font-size="16" fill="#ff0000" textLength="57" lengthAdjust="spacingAndGlyphs">29492.2</text><rect x="1093" y="126" width="11" height="1" fill="#ff0000"/><line x1="1218" y1="60.5" x2="1331.4" y2="190.0" stroke="#ff0000" stroke-width="3.3"/><path d="M1338.0,197.5 L1326.7,191.4 L1333.5,185.5 Z" fill="#ff0000"/><line x1="1338" y1="197.5" x2="1408.3" y2="119.4" stroke="#ff0000" stroke-width="3.3"/><path d="M1415.0,112.0 L1410.3,123.9 L1403.6,117.9 Z" fill="#ff0000"/><text x="1424" y="171" font-size="20" fill="#00ff00" textLength="106" lengthAdjust="spacingAndGlyphs" font-weight="300">多空转折点</text><rect x="0" y="44" width="213" height="65" fill="#fff"/><rect x="0" y="44" width="45" height="24" fill="url(#gRedTab)"/><rect x="0" y="67" width="41" height="1" fill="#8a0000"/><rect x="161" y="44" width="51" height="24" fill="url(#gRedTab)"/><rect x="164" y="67" width="44" height="1" fill="#8a0000"/><rect x="0" y="68" width="102" height="40" fill="url(#gRedPanel)"/><rect x="104" y="68" width="108" height="40" fill="url(#gRedPanel)"/><path d="M0,44.5 H44.5 V68.5 H101.5 V107.5 H0" fill="none" stroke="#c00000" stroke-width="1"/><path d="M104.5,107.5 V68.5 H160.5 V44.5 H211.5 V107.5 Z" fill="none" stroke="#c00000" stroke-width="1"/><rect x="0" y="68" width="41" height="1" fill="#ff6a6a"/><rect x="164" y="68" width="44" height="1" fill="#ff6a6a"/><text x="5" y="60" font-size="12" fill="#fff" textLength="26" lengthAdjust="spacingAndGlyphs">SELL</text><text x="174" y="60" font-size="12" fill="#fff" textLength="23" lengthAdjust="spacingAndGlyphs">BUY</text><rect x="47.5" y="44.5" width="110" height="21" fill="#fff" stroke="#a4a8b0"/><rect x="49" y="46" width="19" height="18" fill="url(#gBtn)"/><rect x="68" y="45" width="1" height="20" fill="#a4a8b0"/><rect x="137" y="46" width="19" height="18" fill="url(#gBtn)"/><rect x="136" y="45" width="1" height="20" fill="#a4a8b0"/><path d="M55,53 L60,53 L57.5,56 Z" fill="#4a5ec8"/><path d="M144,56 L149,56 L146.5,53 Z" fill="#4a5ec8"/><text x="109.5" y="59" font-size="12" fill="#000" textLength="23.5" lengthAdjust="spacingAndGlyphs">1.00</text><text x="9" y="99" font-size="12.5" font-weight="bold" fill="#fff" textLength="35" lengthAdjust="spacingAndGlyphs">29668</text><circle cx="50.5" cy="96.8" r="2.2" fill="#fff"/><text x="55" y="99" font-size="33" fill="#fff" textLength="16" lengthAdjust="spacingAndGlyphs">5</text><text x="119" y="99" font-size="12.5" font-weight="bold" fill="#fff" textLength="35" lengthAdjust="spacingAndGlyphs">29691</text><circle cx="161.5" cy="96.8" r="2.2" fill="#fff"/><text x="166" y="99" font-size="33" fill="#fff" textLength="16" lengthAdjust="spacingAndGlyphs">5</text><text x="5" y="36" font-size="9.8" fill="#000" textLength="59" lengthAdjust="spacingAndGlyphs">JPN225-,Daily</text><text x="71" y="36" font-size="9.8" fill="#000" textLength="141" lengthAdjust="spacingAndGlyphs">29577.5 29847.5 29567.5 29670.0</text></g>
<rect x="1678" y="46" width="2" height="1" fill="#000"/><text x="1683" y="50" font-size="9.6" fill="#000" textLength="33" lengthAdjust="spacingAndGlyphs">30790.0</text><rect x="1678" y="79" width="2" height="1" fill="#000"/><text x="1683" y="83" font-size="9.6" fill="#000" textLength="33" lengthAdjust="spacingAndGlyphs">30262.0</text><rect x="1678" y="112" width="2" height="1" fill="#000"/><text x="1683" y="116" font-size="9.6" fill="#000" textLength="33" lengthAdjust="spacingAndGlyphs">29734.0</text><rect x="1678" y="145" width="2" height="1" fill="#000"/><text x="1683" y="149" font-size="9.6" fill="#000" textLength="33" lengthAdjust="spacingAndGlyphs">29190.0</text><rect x="1678" y="178" width="2" height="1" fill="#000"/><text x="1683" y="182" font-size="9.6" fill="#000" textLength="33" lengthAdjust="spacingAndGlyphs">28662.0</text><rect x="1678" y="211" width="2" height="1" fill="#000"/><text x="1683" y="215" font-size="9.6" fill="#000" textLength="33" lengthAdjust="spacingAndGlyphs">28134.0</text><rect x="1678" y="244" width="2" height="1" fill="#000"/><text x="1683" y="248" font-size="9.6" fill="#000" textLength="33" lengthAdjust="spacingAndGlyphs">27590.0</text><rect x="1678" y="277" width="2" height="1" fill="#000"/><text x="1683" y="281" font-size="9.6" fill="#000" textLength="33" lengthAdjust="spacingAndGlyphs">27062.0</text><rect x="1678" y="310" width="2" height="1" fill="#000"/><text x="1683" y="314" font-size="9.6" fill="#000" textLength="33" lengthAdjust="spacingAndGlyphs">26534.0</text><rect x="1678" y="343" width="2" height="1" fill="#000"/><text x="1683" y="347" font-size="9.6" fill="#000" textLength="33" lengthAdjust="spacingAndGlyphs">26006.0</text><rect x="1678" y="376" width="2" height="1" fill="#000"/><text x="1683" y="380" font-size="9.6" fill="#000" textLength="33" lengthAdjust="spacingAndGlyphs">25478.0</text><rect x="1678" y="409" width="2" height="1" fill="#000"/><text x="1683" y="413" font-size="9.6" fill="#000" textLength="33" lengthAdjust="spacingAndGlyphs">24950.0</text><rect x="1678" y="442" width="2" height="1" fill="#000"/><text x="1683" y="446" font-size="9.6" fill="#000" textLength="33" lengthAdjust="spacingAndGlyphs">24406.0</text><rect x="1678" y="475" width="2" height="1" fill="#000"/><text x="1683" y="479" font-size="9.6" fill="#000" textLength="33" lengthAdjust="spacingAndGlyphs">23878.0</text><rect x="1678" y="508" width="2" height="1" fill="#000"/><text x="1683" y="512" font-size="9.6" fill="#000" textLength="33" lengthAdjust="spacingAndGlyphs">23350.0</text><rect x="1678" y="541" width="2" height="1" fill="#000"/><text x="1683" y="545" font-size="9.6" fill="#000" textLength="33" lengthAdjust="spacingAndGlyphs">22822.0</text><rect x="1678" y="574" width="2" height="1" fill="#000"/><text x="1683" y="578" font-size="9.6" fill="#000" textLength="33" lengthAdjust="spacingAndGlyphs">22294.0</text><rect x="1679" y="73" width="41" height="11" fill="#ff0000"/><text x="1683" y="82" font-size="9.6" fill="#fff" textLength="33" lengthAdjust="spacingAndGlyphs">30247.4</text><rect x="1679" y="91" width="41" height="11" fill="#ff0000"/><text x="1683" y="100" font-size="9.6" fill="#fff" textLength="33" lengthAdjust="spacingAndGlyphs">29958.2</text><rect x="1679" y="110" width="41" height="11" fill="#000000"/><text x="1683" y="119" font-size="9.6" fill="#fff" textLength="33" lengthAdjust="spacingAndGlyphs">29670.0</text><rect x="1679" y="120" width="41" height="11" fill="#32cd32"/><text x="1683" y="129" font-size="9.6" fill="#fff" textLength="33" lengthAdjust="spacingAndGlyphs">29492.2</text><rect x="1679" y="136" width="41" height="11" fill="#0000ff"/><text x="1683" y="145" font-size="9.6" fill="#fff" textLength="33" lengthAdjust="spacingAndGlyphs">29235.2</text><rect x="1679" y="152" width="41" height="11" fill="#0000ff"/><text x="1683" y="161" font-size="9.6" fill="#fff" textLength="33" lengthAdjust="spacingAndGlyphs">28978.1</text>
<g clip-path="url(#cd)"><g fill="#c0c0c0" shape-rendering="crispEdges"><rect x="6" y="699" width="1" height="30"/><rect x="14" y="696" width="1" height="33"/><rect x="22" y="695" width="1" height="34"/><rect x="30" y="692" width="1" height="37"/><rect x="38" y="691" width="1" height="38"/><rect x="46" y="696" width="1" height="33"/><rect x="54" y="697" width="1" height="32"/><rect x="62" y="699" width="1" height="30"/><rect x="70" y="698" width="1" height="31"/><rect x="78" y="692" width="1" height="37"/><rect x="86" y="697" width="1" height="32"/><rect x="94" y="699" width="1" height="30"/><rect x="102" y="702" width="1" height="27"/><rect x="110" y="703" width="1" height="26"/><rect x="118" y="712" width="1" height="17"/><rect x="126" y="714" width="1" height="15"/><rect x="134" y="716" width="1" height="13"/><rect x="142" y="715" width="1" height="14"/><rect x="150" y="712" width="1" height="17"/><rect x="158" y="711" width="1" height="18"/><rect x="166" y="710" width="1" height="19"/><rect x="174" y="712" width="1" height="17"/><rect x="182" y="713" width="1" height="16"/><rect x="190" y="715" width="1" height="14"/><rect x="198" y="717" width="1" height="12"/><rect x="206" y="724" width="1" height="5"/><rect x="214" y="725" width="1" height="4"/><rect x="222" y="727" width="1" height="2"/><rect x="230" y="727" width="1" height="2"/><rect x="238" y="726" width="1" height="3"/><rect x="246" y="724" width="1" height="5"/><rect x="254" y="720" width="1" height="9"/><rect x="262" y="716" width="1" height="13"/><rect x="270" y="715" width="1" height="14"/><rect x="278" y="714" width="1" height="15"/><rect x="286" y="716" width="1" height="13"/><rect x="294" y="717" width="1" height="12"/><rect x="302" y="715" width="1" height="14"/><rect x="310" y="716" width="1" height="13"/><rect x="318" y="713" width="1" height="16"/><rect x="326" y="708" width="1" height="21"/><rect x="334" y="706" width="1" height="23"/><rect x="342" y="705" width="1" height="24"/><rect x="350" y="703" width="1" height="26"/><rect x="358" y="704" width="1" height="25"/><rect x="366" y="704" width="1" height="25"/><rect x="374" y="706" width="1" height="23"/><rect x="382" y="707" width="1" height="22"/><rect x="390" y="707" width="1" height="22"/><rect x="398" y="707" width="1" height="22"/><rect x="406" y="708" width="1" height="21"/><rect x="414" y="709" width="1" height="20"/><rect x="422" y="710" width="1" height="19"/><rect x="430" y="711" width="1" height="18"/><rect x="438" y="712" width="1" height="17"/><rect x="446" y="716" width="1" height="13"/><rect x="454" y="719" width="1" height="10"/><rect x="462" y="725" width="1" height="4"/><rect x="470" y="728" width="1" height="1"/><rect x="478" y="728" width="1" height="4"/><rect x="486" y="728" width="1" height="9"/><rect x="494" y="728" width="1" height="5"/><rect x="502" y="726" width="1" height="3"/><rect x="510" y="718" width="1" height="11"/><rect x="518" y="708" width="1" height="21"/><rect x="526" y="696" width="1" height="33"/><rect x="534" y="685" width="1" height="44"/><rect x="542" y="665" width="1" height="64"/><rect x="550" y="651" width="1" height="78"/><rect x="558" y="637" width="1" height="92"/><rect x="566" y="627" width="1" height="102"/><rect x="574" y="618" width="1" height="111"/><rect x="582" y="610" width="1" height="119"/><rect x="590" y="599" width="1" height="130"/><rect x="598" y="595" width="1" height="134"/><rect x="606" y="598" width="1" height="131"/><rect x="614" y="604" width="1" height="125"/><rect x="622" y="607" width="1" height="122"/><rect x="630" y="610" width="1" height="119"/><rect x="638" y="610" width="1" height="119"/><rect x="646" y="602" width="1" height="127"/><rect x="654" y="601" width="1" height="128"/><rect x="662" y="599" width="1" height="130"/><rect x="670" y="593" width="1" height="136"/><rect x="678" y="589" width="1" height="140"/><rect x="686" y="591" width="1" height="138"/><rect x="694" y="591" width="1" height="138"/><rect x="702" y="594" width="1" height="135"/><rect x="710" y="598" width="1" height="131"/><rect x="718" y="602" width="1" height="127"/><rect x="726" y="605" width="1" height="124"/><rect x="734" y="616" width="1" height="113"/><rect x="742" y="626" width="1" height="103"/><rect x="750" y="632" width="1" height="97"/><rect x="758" y="636" width="1" height="93"/><rect x="766" y="644" width="1" height="85"/><rect x="774" y="649" width="1" height="80"/><rect x="782" y="654" width="1" height="75"/><rect x="790" y="657" width="1" height="72"/><rect x="798" y="660" width="1" height="69"/><rect x="806" y="664" width="1" height="65"/><rect x="814" y="668" width="1" height="61"/><rect x="822" y="670" width="1" height="59"/><rect x="830" y="677" width="1" height="52"/><rect x="838" y="683" width="1" height="46"/><rect x="846" y="686" width="1" height="43"/><rect x="854" y="689" width="1" height="40"/><rect x="862" y="692" width="1" height="37"/><rect x="870" y="694" width="1" height="35"/><rect x="878" y="692" width="1" height="37"/><rect x="886" y="680" width="1" height="49"/><rect x="894" y="673" width="1" height="56"/><rect x="902" y="667" width="1" height="62"/><rect x="910" y="662" width="1" height="67"/><rect x="918" y="667" width="1" height="62"/><rect x="926" y="672" width="1" height="57"/><rect x="934" y="671" width="1" height="58"/><rect x="942" y="666" width="1" height="63"/><rect x="950" y="656" width="1" height="73"/><rect x="958" y="648" width="1" height="81"/><rect x="966" y="645" width="1" height="84"/><rect x="974" y="642" width="1" height="87"/><rect x="982" y="636" width="1" height="93"/><rect x="990" y="625" width="1" height="104"/><rect x="998" y="625" width="1" height="104"/><rect x="1006" y="630" width="1" height="99"/><rect x="1014" y="631" width="1" height="98"/><rect x="1022" y="627" width="1" height="102"/><rect x="1030" y="626" width="1" height="103"/><rect x="1038" y="630" width="1" height="99"/><rect x="1046" y="631" width="1" height="98"/><rect x="1054" y="633" width="1" height="96"/><rect x="1062" y="636" width="1" height="93"/><rect x="1070" y="639" width="1" height="90"/><rect x="1078" y="656" width="1" height="73"/><rect x="1086" y="663" width="1" height="66"/><rect x="1094" y="677" width="1" height="52"/><rect x="1102" y="691" width="1" height="38"/><rect x="1110" y="694" width="1" height="35"/><rect x="1118" y="692" width="1" height="37"/><rect x="1126" y="690" width="1" height="39"/><rect x="1134" y="687" width="1" height="42"/><rect x="1142" y="683" width="1" height="46"/><rect x="1150" y="680" width="1" height="49"/><rect x="1158" y="666" width="1" height="63"/><rect x="1166" y="659" width="1" height="70"/><rect x="1174" y="654" width="1" height="75"/><rect x="1182" y="647" width="1" height="82"/><rect x="1190" y="643" width="1" height="86"/><rect x="1198" y="639" width="1" height="90"/><rect x="1206" y="629" width="1" height="100"/><rect x="1214" y="619" width="1" height="110"/><rect x="1222" y="613" width="1" height="116"/><rect x="1230" y="616" width="1" height="113"/><rect x="1238" y="617" width="1" height="112"/><rect x="1246" y="614" width="1" height="115"/><rect x="1254" y="620" width="1" height="109"/><rect x="1262" y="626" width="1" height="103"/><rect x="1270" y="628" width="1" height="101"/><rect x="1278" y="640" width="1" height="89"/><rect x="1286" y="654" width="1" height="75"/><rect x="1294" y="663" width="1" height="66"/><rect x="1302" y="665" width="1" height="64"/><rect x="1310" y="675" width="1" height="54"/><rect x="1318" y="688" width="1" height="41"/><rect x="1326" y="707" width="1" height="22"/><rect x="1334" y="715" width="1" height="14"/><rect x="1342" y="719" width="1" height="10"/><rect x="1350" y="727" width="1" height="2"/><rect x="1358" y="728" width="1" height="5"/><rect x="1366" y="728" width="1" height="7"/><rect x="1374" y="728" width="1" height="13"/><rect x="1382" y="728" width="1" height="5"/><rect x="1390" y="728" width="1" height="2"/><rect x="1398" y="724" width="1" height="5"/><rect x="1406" y="720" width="1" height="9"/></g><polyline points="0.5,695.6 9.7,694.3 28.0,693.4 39.0,693.4 46.3,694.5 70.1,695.2 77.4,694.3 88.4,694.3 99.4,696.1 112.2,697.4 119.5,699.8 130.5,702.9 143.4,706.2 159.8,708.4 172.7,711.3 202.0,712.6 220.3,715.0 234.9,719.0 244.1,721.8 271.5,722.3 278.9,720.9 290.5,719.4 308.8,716.3 327.1,713.5 345.5,711.3 363.8,708.4 372.9,706.2 391.2,704.4 404.1,704.4 433.4,707.1 462.7,711.3 473.7,715.0 484.6,719.9 497.5,723.6 510.3,725.4 530.4,720.9 537.8,714.4 550.6,702.5 559.7,689.7 568.9,675.1 579.9,658.6 589.7,642.1 598.8,631.1 608.0,620.1 620.8,610.0 635.5,605.5 650.1,602.7 668.4,602.2 686.7,599.1 705.0,595.0 721.5,594.5 736.2,597.2 749.0,603.6 763.7,613.7 778.3,624.7 793.0,636.6 809.5,648.5 827.8,656.8 846.1,667.7 864.4,676.9 880.5,682.4 888.8,683.9 903.5,683.3 921.8,676.9 943.8,670.5 958.4,665.0 973.1,658.6 984.1,654.9 998.7,645.8 1017.0,635.7 1031.7,631.1 1053.7,627.8 1072.0,630.2 1090.3,639.4 1104.9,653.1 1123.2,667.7 1141.6,679.6 1154.4,683.9 1171.5,678.4 1184.3,671.4 1197.1,662.6 1210.0,653.1 1224.6,640.3 1235.6,633.0 1248.4,625.6 1257.6,621.0 1270.4,619.2 1279.5,621.0 1292.4,628.4 1303.4,634.8 1318.0,648.5 1334.5,667.7 1343.7,681.5 1358.3,698.9 1373.0,714.4 1383.9,722.7 1398.6,727.3 1405.9,730.0" fill="none" shape-rendering="crispEdges" stroke="#ff0000" stroke-width="1" stroke-dasharray="3,3"/><text x="-6.4" y="592" font-size="9.6" fill="#000" textLength="121.3" lengthAdjust="spacingAndGlyphs">MACD(12,26,9) 43.79 -10.10</text><line x1="1234" y1="612.5" x2="1361.0" y2="734.3" stroke="#ff0000" stroke-width="3.3"/><path d="M1367.5,740.5 L1356.4,736.2 L1362.7,729.6 Z" fill="#ff0000"/><line x1="1367.5" y1="740.5" x2="1417.6" y2="721.2" stroke="#ff0000" stroke-width="3.3"/><path d="M1426.0,718.0 L1417.4,726.2 L1414.1,717.7 Z" fill="#ff0000"/></g>
<rect x="1678" y="581" width="2" height="1" fill="#000"/><text x="1681" y="590" font-size="9.6" fill="#000" textLength="27" lengthAdjust="spacingAndGlyphs">715.89</text>
<rect x="1678" y="728" width="2" height="1" fill="#000"/><text x="1681" y="732" font-size="9.6" fill="#000" textLength="18" lengthAdjust="spacingAndGlyphs">0.00</text>
<rect x="1678" y="748" width="2" height="1" fill="#000"/><text x="1681" y="746" font-size="9.6" fill="#000" textLength="31" lengthAdjust="spacingAndGlyphs">-101.92</text>
<g clip-path="url(#cr)"><line x1="3" y1="787.5" x2="1677" y2="787.5" stroke="#c0c0c0" stroke-width="1" stroke-dasharray="3,3"/><line x1="3" y1="838.5" x2="1677" y2="838.5" stroke="#c0c0c0" stroke-width="1" stroke-dasharray="3,3"/><line x1="3" y1="899.5" x2="1677" y2="899.5" stroke="#c0c0c0" stroke-width="1" stroke-dasharray="3,3"/><polyline points="-1.5,830.5 6.5,828.6 14.5,815.6 22.5,815.6 30.5,813.3 38.5,817.1 46.5,837.8 54.5,825.3 62.5,831.5 70.5,822.8 78.5,813.3 86.5,836.3 94.5,832.4 102.5,834.3 110.5,831.5 118.5,848.1 126.5,837.2 134.5,838.6 142.5,834.0 150.5,827.6 158.5,830.5 166.5,830.5 174.5,831.5 182.5,835.9 190.5,839.1 198.5,839.1 206.5,852.0 214.5,839.1 222.5,841.6 230.5,839.1 238.5,835.3 246.5,832.0 254.5,824.4 262.5,821.5 270.5,829.0 278.5,830.5 286.5,838.6 294.5,834.3 302.5,827.6 310.5,835.3 318.5,824.8 326.5,815.6 334.5,824.4 342.5,824.4 350.5,821.3 358.5,828.2 366.5,827.2 374.5,831.5 382.5,829.0 390.5,827.1 398.5,825.1 406.5,824.4 414.5,830.5 422.5,829.0 430.5,829.0 438.5,832.8 446.5,843.5 454.5,845.5 462.5,860.2 470.5,848.7 478.5,855.0 486.5,858.9 494.5,833.4 502.5,818.0 510.5,813.3 518.5,805.6 526.5,799.5 534.5,795.0 542.5,783.5 550.5,786.4 558.5,783.5 566.5,786.4 574.5,783.5 582.5,782.2 590.5,777.4 598.5,789.3 606.5,802.7 614.5,809.8 622.5,805.6 630.5,805.2 638.5,800.2 646.5,791.2 654.5,802.7 662.5,798.9 670.5,794.5 678.5,794.5 686.5,803.3 694.5,799.5 702.5,804.1 710.5,807.1 718.5,805.2 726.5,803.3 734.5,823.8 742.5,821.3 750.5,817.5 758.5,816.1 766.5,822.8 774.5,821.3 782.5,822.5 790.5,817.5 798.5,819.4 806.5,820.5 814.5,822.5 822.5,818.0 830.5,832.4 838.5,831.5 846.5,827.6 854.5,827.6 862.5,826.3 870.5,826.3 878.5,814.0 886.5,796.4 894.5,802.1 902.5,801.4 910.5,799.5 918.5,826.3 926.5,827.6 934.5,817.5 942.5,808.5 950.5,800.2 958.5,799.5 966.5,806.0 974.5,804.6 982.5,798.9 990.5,791.2 998.5,811.3 1006.5,819.4 1014.5,815.2 1022.5,807.5 1030.5,811.3 1038.5,816.1 1046.5,815.2 1054.5,813.3 1062.5,813.3 1070.5,814.2 1078.5,843.5 1086.5,831.5 1094.5,843.5 1102.5,848.1 1110.5,833.4 1118.5,828.2 1126.5,826.3 1134.5,824.4 1142.5,822.5 1150.5,820.5 1158.5,807.1 1166.5,811.3 1174.5,813.3 1182.5,808.5 1190.5,811.7 1198.5,807.9 1206.5,800.2 1214.5,797.9 1222.5,797.9 1230.5,812.3 1238.5,807.9 1246.5,806.5 1254.5,814.2 1262.5,818.0 1270.5,813.6 1278.5,833.4 1286.5,838.2 1294.5,832.4 1302.5,825.7 1310.5,837.2 1318.5,846.8 1326.5,851.6 1334.5,843.9 1342.5,840.5 1350.5,850.6 1358.5,846.8 1366.5,845.8 1374.5,839.1 1382.5,833.4 1390.5,830.5 1398.5,832.0 1406.5,830.5" fill="none" shape-rendering="crispEdges" stroke="#1e90ff" stroke-width="1"/><text x="-6.8" y="764" font-size="9.6" fill="#000" textLength="68.7" lengthAdjust="spacingAndGlyphs">RSI(14) 55.0433</text><line x1="1211" y1="794" x2="1329.5" y2="853.5" stroke="#ff0000" stroke-width="3.3"/><path d="M1337.5,857.5 L1325.6,856.7 L1329.7,848.5 Z" fill="#ff0000"/><line x1="1337.5" y1="857.5" x2="1399.0" y2="835.1" stroke="#ff0000" stroke-width="3.3"/><path d="M1407.5,832.0 L1398.7,840.1 L1395.6,831.4 Z" fill="#ff0000"/></g>
<rect x="1678" y="753" width="2" height="1" fill="#000"/>
<text x="1681.5" y="762" font-size="9.6" fill="#000" textLength="14" lengthAdjust="spacingAndGlyphs">100</text>
<rect x="1677" y="787" width="1" height="1" fill="#fff"/>
<text x="1680" y="791" font-size="9.6" fill="#000" textLength="9.5" lengthAdjust="spacingAndGlyphs">80</text>
<rect x="1677" y="838" width="1" height="1" fill="#fff"/>
<text x="1680" y="842" font-size="9.6" fill="#000" textLength="9.5" lengthAdjust="spacingAndGlyphs">50</text>
<rect x="1677" y="899" width="1" height="1" fill="#fff"/>
<text x="1680" y="903" font-size="9.6" fill="#000" textLength="9.5" lengthAdjust="spacingAndGlyphs">15</text>
<rect x="1678" y="924" width="2" height="1" fill="#000"/>
<text x="1681.5" y="922" font-size="9.6" fill="#000" textLength="5" lengthAdjust="spacingAndGlyphs">0</text>
<text x="-11.5" y="938" font-size="9.6" fill="#000" textLength="50.5" lengthAdjust="spacingAndGlyphs">22 Aug 2020</text><rect x="54" y="926" width="1" height="2" fill="#000"/><text x="53.7" y="938" font-size="9.6" fill="#000" textLength="50.5" lengthAdjust="spacingAndGlyphs">30 Aug 2020</text><rect x="118" y="926" width="1" height="2" fill="#000"/><text x="117.7" y="938" font-size="9.6" fill="#000" textLength="46.0" lengthAdjust="spacingAndGlyphs">8 Sep 2020</text><rect x="182" y="926" width="1" height="2" fill="#000"/><text x="181.7" y="938" font-size="9.6" fill="#000" textLength="51.0" lengthAdjust="spacingAndGlyphs">17 Sep 2020</text><rect x="246" y="926" width="1" height="2" fill="#000"/><text x="245.7" y="938" font-size="9.6" fill="#000" textLength="51.0" lengthAdjust="spacingAndGlyphs">27 Sep 2020</text><rect x="310" y="926" width="1" height="2" fill="#000"/><text x="309.7" y="938" font-size="9.6" fill="#000" textLength="44.0" lengthAdjust="spacingAndGlyphs">6 Oct 2020</text><rect x="374" y="926" width="1" height="2" fill="#000"/><text x="373.7" y="938" font-size="9.6" fill="#000" textLength="49.0" lengthAdjust="spacingAndGlyphs">15 Oct 2020</text><rect x="438" y="926" width="1" height="2" fill="#000"/><text x="437.7" y="938" font-size="9.6" fill="#000" textLength="49.0" lengthAdjust="spacingAndGlyphs">25 Oct 2020</text><rect x="502" y="926" width="1" height="2" fill="#000"/><text x="501.7" y="938" font-size="9.6" fill="#000" textLength="46.0" lengthAdjust="spacingAndGlyphs">3 Nov 2020</text><rect x="566" y="926" width="1" height="2" fill="#000"/><text x="565.7" y="938" font-size="9.6" fill="#000" textLength="51.0" lengthAdjust="spacingAndGlyphs">12 Nov 2020</text><rect x="630" y="926" width="1" height="2" fill="#000"/><text x="629.7" y="938" font-size="9.6" fill="#000" textLength="51.0" lengthAdjust="spacingAndGlyphs">22 Nov 2020</text><rect x="694" y="926" width="1" height="2" fill="#000"/><text x="693.7" y="938" font-size="9.6" fill="#000" textLength="46.0" lengthAdjust="spacingAndGlyphs">1 Dec 2020</text><rect x="758" y="926" width="1" height="2" fill="#000"/><text x="757.7" y="938" font-size="9.6" fill="#000" textLength="51.0" lengthAdjust="spacingAndGlyphs">10 Dec 2020</text><rect x="822" y="926" width="1" height="2" fill="#000"/><text x="821.7" y="938" font-size="9.6" fill="#000" textLength="51.0" lengthAdjust="spacingAndGlyphs">20 Dec 2020</text><rect x="886" y="926" width="1" height="2" fill="#000"/><text x="885.7" y="938" font-size="9.6" fill="#000" textLength="51.0" lengthAdjust="spacingAndGlyphs">29 Dec 2020</text><rect x="950" y="926" width="1" height="2" fill="#000"/><text x="949.7" y="938" font-size="9.6" fill="#000" textLength="44.5" lengthAdjust="spacingAndGlyphs">8 Jan 2021</text><rect x="1014" y="926" width="1" height="2" fill="#000"/><text x="1013.7" y="938" font-size="9.6" fill="#000" textLength="49.5" lengthAdjust="spacingAndGlyphs">18 Jan 2021</text><rect x="1078" y="926" width="1" height="2" fill="#000"/><text x="1077.7" y="938" font-size="9.6" fill="#000" textLength="49.5" lengthAdjust="spacingAndGlyphs">27 Jan 2021</text><rect x="1142" y="926" width="1" height="2" fill="#000"/><text x="1141.7" y="938" font-size="9.6" fill="#000" textLength="45.5" lengthAdjust="spacingAndGlyphs">5 Feb 2021</text><rect x="1206" y="926" width="1" height="2" fill="#000"/><text x="1205.7" y="938" font-size="9.6" fill="#000" textLength="50.5" lengthAdjust="spacingAndGlyphs">15 Feb 2021</text><rect x="1270" y="926" width="1" height="2" fill="#000"/><text x="1269.7" y="938" font-size="9.6" fill="#000" textLength="50.5" lengthAdjust="spacingAndGlyphs">24 Feb 2021</text><rect x="1334" y="926" width="1" height="2" fill="#000"/><text x="1333.7" y="938" font-size="9.6" fill="#000" textLength="45.5" lengthAdjust="spacingAndGlyphs">5 Mar 2021</text><rect x="1398" y="926" width="1" height="2" fill="#000"/><text x="1397.7" y="938" font-size="9.6" fill="#000" textLength="50.5" lengthAdjust="spacingAndGlyphs">15 Mar 2021</text>
</svg></body></html>
